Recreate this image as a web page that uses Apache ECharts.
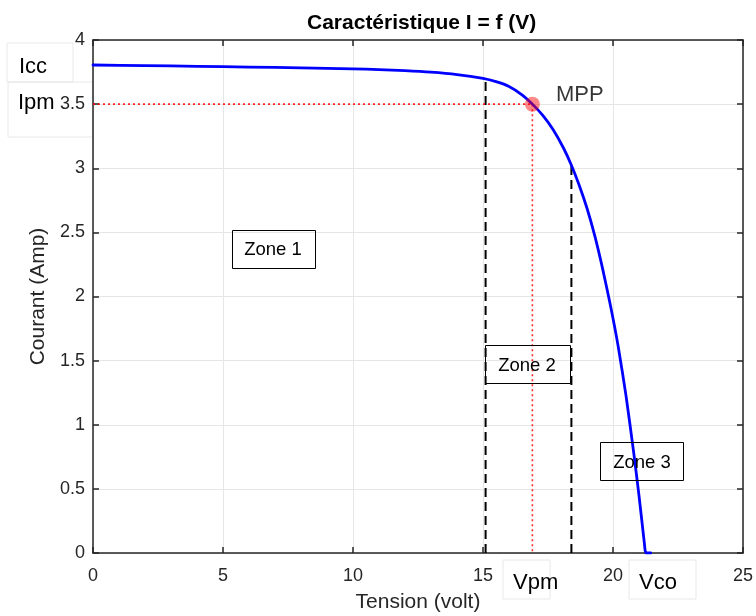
<!DOCTYPE html>
<html>
<head>
<meta charset="utf-8">
<script src="https://cdn.jsdelivr.net/npm/echarts@6/dist/echarts.min.js"></script>
<style>
html,body{margin:0;padding:0;background:#fff;}
#c{width:756px;height:616px;}
</style>
</head>
<body>
<div id="c"></div>
<script>
// ---- data ----
var voltage = [0, 2, 4, 6, 8, 10, 11, 12, 13, 14, 15, 15.5, 16, 16.5, 16.9, 17.3, 17.7, 18.1, 18.4, 18.7, 19.0, 19.3, 19.6, 19.9, 20.2, 20.5, 20.8, 21.0, 21.2, 21.24, 21.28, 21.45];
var current = [3.805, 3.800, 3.795, 3.789, 3.783, 3.775, 3.769, 3.761, 3.749, 3.730, 3.700, 3.675, 3.638, 3.573, 3.500, 3.412, 3.300, 3.156, 3.024, 2.868, 2.688, 2.472, 2.217, 1.932, 1.611, 1.227, 0.777, 0.447, 0.087, 0.015, 0.000, 0.000];
var zoneBoundV = [15.1, 18.4];
var zoneBoundI = [3.69, 3.02];
var mppV = 16.9;
var mppI = 3.5;
var xTicks = [0, 5, 10, 15, 20, 25];
var yTicks = [0, 0.5, 1, 1.5, 2, 2.5, 3, 3.5, 4];

var curveData = voltage.map(function (v, i) { return [v, current[i]]; });
var FONT = '"Liberation Sans", Arial, Helvetica, sans-serif';
var axisCol = '#262626';

var chart = echarts.init(document.getElementById('c'), null, {renderer: 'canvas'});

function boundSeries(idx) {
  return {
    type: 'line', symbol: 'none', silent: true, z: 3,
    data: [[zoneBoundV[idx], 0], [zoneBoundV[idx], zoneBoundI[idx]]],
    lineStyle: {color: '#000', width: 2, type: [9, 5]}
  };
}

var option = {
  backgroundColor: '#ffffff',
  animation: false,
  title: {
    text: 'Caractéristique I = f (V)',
    left: 302, top: 8,
    textStyle: {fontFamily: FONT, fontSize: 21, fontWeight: 'bold', color: '#000'}
  },
  grid: {left: 93, right: 13, top: 40, bottom: 63, containLabel: false, outerBoundsMode: 'none'},
  xAxis: [{
    type: 'value', min: 0, max: 25, interval: 5,
    name: 'Tension (volt)', nameLocation: 'middle', nameGap: 39,
    nameTextStyle: {fontFamily: FONT, fontSize: 21, color: axisCol},
    axisLine: {show: true, onZero: false, lineStyle: {color: axisCol, width: 1.5}},
    axisTick: {show: true, inside: true, length: 6, lineStyle: {color: axisCol, width: 1.5}},
    axisLabel: {fontFamily: FONT, fontSize: 18, color: axisCol, margin: 14},
    splitLine: {show: true, lineStyle: {color: '#e6e6e6', width: 1}}
  }, {
    type: 'value', position: 'top', min: 0, max: 25, interval: 5,
    axisLine: {show: true, onZero: false, lineStyle: {color: axisCol, width: 1.5}},
    axisTick: {show: true, inside: true, length: 6, lineStyle: {color: axisCol, width: 1.5}},
    axisLabel: {show: false}, splitLine: {show: false}
  }],
  yAxis: [{
    type: 'value', min: 0, max: 4, interval: 0.5,
    name: 'Courant (Amp)', nameLocation: 'middle', nameGap: 43,
    nameTextStyle: {fontFamily: FONT, fontSize: 21, color: axisCol},
    axisLine: {show: true, onZero: false, lineStyle: {color: axisCol, width: 1.5}},
    axisTick: {show: true, inside: true, length: 6, lineStyle: {color: axisCol, width: 1.5}},
    axisLabel: {fontFamily: FONT, fontSize: 18, color: axisCol, margin: 8,
      formatter: function (v) { return String(v); }},
    splitLine: {show: true, lineStyle: {color: '#e6e6e6', width: 1}}
  }, {
    type: 'value', position: 'right', min: 0, max: 4, interval: 0.5,
    axisLine: {show: true, onZero: false, lineStyle: {color: axisCol, width: 1.5}},
    axisTick: {show: true, inside: true, length: 6, lineStyle: {color: axisCol, width: 1.5}},
    axisLabel: {show: false}, splitLine: {show: false}
  }],
  series: [
    boundSeries(0),
    boundSeries(1),
    {
      type: 'line', symbol: 'none', silent: true, z: 3,
      data: [[0, mppI], [mppV, mppI]],
      lineStyle: {color: 'rgba(255,0,0,0.85)', width: 1.6, type: [2, 3]}
    },
    {
      type: 'line', symbol: 'none', silent: true, z: 3,
      data: [[mppV, mppI], [mppV, 0]],
      lineStyle: {color: 'rgba(255,0,0,0.85)', width: 1.6, type: [2, 3]}
    },
    {
      type: 'line', symbol: 'none', silent: true, z: 4,
      smooth: 0.2,
      data: curveData,
      lineStyle: {color: '#0000ff', width: 2.8, join: 'round', cap: 'round'}
    },
    {
      type: 'scatter', silent: true, z: 5,
      symbol: 'circle', symbolSize: 15,
      data: [[mppV, mppI]],
      itemStyle: {color: 'rgba(255,0,0,0.58)'},
      label: {show: true, position: 'right', distance: 5, offset: [11, -9],
        formatter: 'MPP', fontFamily: FONT, fontSize: 22, color: '#000'}
    }
  ],
  graphic: [
    {type: 'rect', shape: {x: 7, y: 43, width: 66, height: 39}, style: {fill: 'none', stroke: '#e8e8e8', lineWidth: 1}, z: -1},
    {type: 'rect', shape: {x: 8, y: 82, width: 85, height: 55}, style: {fill: 'none', stroke: '#e8e8e8', lineWidth: 1}, z: -1},
    {type: 'text', left: 19, top: 56, style: {text: 'Icc', font: '22px ' + FONT, fill: '#000'}},
    {type: 'text', left: 18, top: 92, style: {text: 'Ipm', font: '22px ' + FONT, fill: '#000'}},
    {type: 'rect', shape: {x: 503, y: 560, width: 47, height: 39}, style: {fill: 'none', stroke: '#e8e8e8', lineWidth: 1}, z: -1},
    {type: 'rect', shape: {x: 629, y: 560, width: 67, height: 39}, style: {fill: 'none', stroke: '#e8e8e8', lineWidth: 1}, z: -1},
    {type: 'text', left: 513, top: 572, style: {text: 'Vpm', font: '22px ' + FONT, fill: '#000'}},
    {type: 'text', left: 639, top: 572, style: {text: 'Vco', font: '22px ' + FONT, fill: '#000'}},
    {type: 'rect', shape: {x: 232.5, y: 230.5, width: 83, height: 38}, style: {fill: 'none', stroke: '#000', lineWidth: 1}, z: 10},
    {type: 'text', x: 273, y: 250, style: {text: 'Zone 1', font: '18.5px ' + FONT, fill: '#000', textAlign: 'center', textVerticalAlign: 'middle'}, z: 10},
    {type: 'rect', shape: {x: 485.5, y: 345.5, width: 85, height: 38}, style: {fill: 'none', stroke: '#000', lineWidth: 1}, z: 10},
    {type: 'text', x: 527, y: 366, style: {text: 'Zone 2', font: '18.5px ' + FONT, fill: '#000', textAlign: 'center', textVerticalAlign: 'middle'}, z: 10},
    {type: 'rect', shape: {x: 600.5, y: 442.5, width: 83, height: 38}, style: {fill: 'none', stroke: '#000', lineWidth: 1}, z: 10},
    {type: 'text', x: 642, y: 463, style: {text: 'Zone 3', font: '18.5px ' + FONT, fill: '#000', textAlign: 'center', textVerticalAlign: 'middle'}, z: 10}
  ]
};
chart.setOption(option);
</script>
</body>
</html>
